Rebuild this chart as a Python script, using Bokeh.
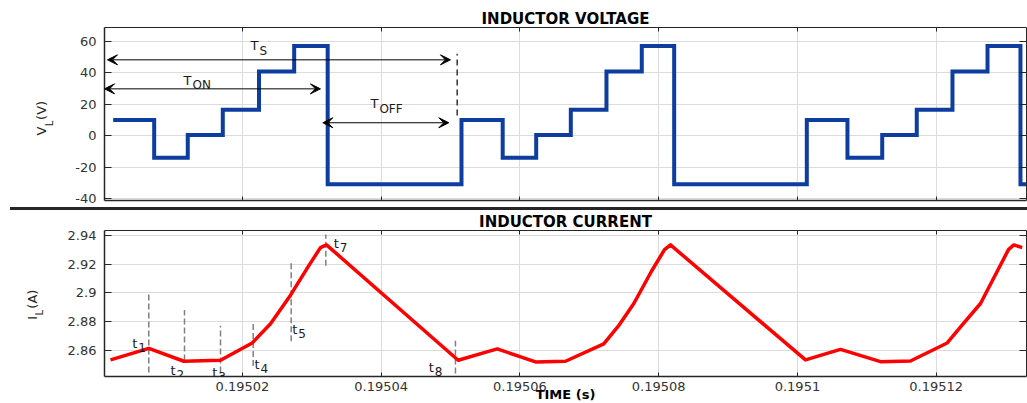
from bokeh.plotting import figure
from bokeh.models import (FixedTicker, CustomJSTickFormatter, LinearAxis, Label, Arrow,
                          VeeHead, Div, Range1d)
from bokeh.layouts import column, row
from bokeh.core.properties import value
from bokeh.embed import file_html
from bokeh.resources import INLINE

# ---------------- data ----------------
# inductor voltage: level start times (s) and levels (V)
volt_t = [0.19500136, 0.19500727, 0.19501211, 0.19501716, 0.19502238, 0.19502745, 0.19503228,
          0.19505157, 0.19505751, 0.19506234, 0.19506733, 0.19507247, 0.19507756, 0.19508223,
          0.19510135, 0.19510721, 0.19511222, 0.19511720, 0.19512235, 0.19512740, 0.19513215,
          0.19513302]
volt_v = [10, -14, 0.5, 16.5, 40.7, 56.8, -30.8,
          10, -14, 0.5, 16.5, 40.7, 56.8, -30.8,
          10, -14, 0.5, 16.5, 40.7, 56.8, -30.8,
          -30.8]

# inductor current (s, A)
cur_t = [0.19500097, 0.19500649, 0.19501154, 0.19501683, 0.19502140, 0.19502404, 0.19502692,
         0.19502956, 0.19503124, 0.19503211,
         0.19505109, 0.19505672, 0.19506224, 0.19506656, 0.19507208, 0.19507420, 0.19507641,
         0.19507896, 0.19508084, 0.19508170,
         0.19510116, 0.19510620, 0.19511197, 0.19511629, 0.19512159, 0.19512379, 0.19512639,
         0.19512869, 0.19513042, 0.19513119, 0.19513240]
cur_i = [2.8534, 2.8614, 2.8525, 2.8532, 2.8652, 2.8785, 2.8984, 2.9189, 2.9314, 2.9333,
         2.8532, 2.8611, 2.8520, 2.8525, 2.8645, 2.8770, 2.8926, 2.9150, 2.9300, 2.9333,
         2.8534, 2.8607, 2.8522, 2.8527, 2.8652, 2.8780, 2.8926, 2.9140, 2.9300, 2.9333,
         2.9314]

# axis ticks
x_ticks = [0.19502, 0.19504, 0.19506, 0.19508, 0.1951, 0.19512]
x_tick_labels = ["0.19502", "0.19504", "0.19506", "0.19508", "0.1951", "0.19512"]
v_ticks = [-40, -20, 0, 20, 40, 60]
v_tick_labels = ["-40", "-20", "0", "20", "40", "60"]
i_ticks = [2.86, 2.88, 2.9, 2.92, 2.94]
i_tick_labels = ["2.86", "2.88", "2.9", "2.92", "2.94"]

# period annotations (top panel)
arrow_names = ["S", "ON", "OFF"]
arrow_x0 = [0.19500054, 0.19500011, 0.19503158]
arrow_x1 = [0.19504998, 0.19503124, 0.19504974]
arrow_y = [48.1, 29.7, 8.2]
arrow_text_x = [0.19502115, 0.19501149, 0.19503844]
arrow_text_y = [57.1, 35.0, 20.4]
period_end_t = [0.19505095]
period_end_lo = [12.8]
period_end_hi = [51.9]

# instant markers (bottom panel)
tmark_names = ["1", "2", "3", "4", "5", "7", "8"]
tmark_t = [0.19500649, 0.19501164, 0.19501683, 0.19502154, 0.19502702, 0.19503201, 0.19505070]
tmark_lo = [2.8447, 2.8530, 2.8447, 2.8492, 2.8664, 2.9189, 2.8440]
tmark_hi = [2.8995, 2.8881, 2.8771, 2.8801, 2.9223, 2.9406, 2.8668]
tlabel_x = [0.19500410, 0.19500962, 0.19501563, 0.19502173, 0.19502716, 0.19503316, 0.19504686]
tlabel_y = [2.8650, 2.8458, 2.8447, 2.8504, 2.8748, 2.9342, 2.8481]

# y-axis titles (rotated, with subscript): text, x (px in label strip), y (data)
v_title = ["V", "L", "(V)"]
v_title_x = [41, 49, 41]
v_title_y = [0.1, 6.0, 10.0]
i_title = ["I", "L", "(A)"]
i_title_x = [32, 39, 32]
i_title_y = [2.8814, 2.8842, 2.8890]
title_sizes = ["13px", "10px", "13px"]

# ---------------- style ----------------
FONT = "DejaVu Sans"
BLUE = "#0d3d9e"
RED = "#ff0000"
AX = "#262626"
GRID = "#dcdcdc"
STRIP = 60
W = 1027 - STRIP
X0, X1 = 0.195000107, 0.19513302


def box_axes(p, yticks, ylabels, show_x):
    p.add_layout(LinearAxis(), "above")
    p.add_layout(LinearAxis(), "right")
    xt = FixedTicker(ticks=x_ticks)
    yt = FixedTicker(ticks=yticks)
    code = "const i = vals.indexOf(tick); return i < 0 ? '' : labs[i];"
    xf = CustomJSTickFormatter(args=dict(vals=x_ticks, labs=x_tick_labels), code=code)
    yf = CustomJSTickFormatter(args=dict(vals=yticks, labs=ylabels), code=code)
    for ax in p.xaxis:
        ax.ticker = xt
        ax.formatter = xf
        ax.major_tick_in = 4
    for ax in p.yaxis:
        ax.ticker = yt
        ax.formatter = yf
        ax.major_tick_in = 7
    for ax in p.axis:
        ax.major_tick_out = 0
        ax.minor_tick_line_color = None
        ax.axis_line_color = AX
        ax.major_tick_line_color = AX
        ax.major_label_text_font = FONT
        ax.major_label_text_font_size = "0px"
        ax.major_label_text_color = None
        ax.major_label_standoff = 0
        ax.axis_line_width = 1
    lf = p.left[0]
    lf.major_label_text_font_size = "13px"
    lf.major_label_text_color = "#333333"
    lf.major_label_standoff = 8
    lf.axis_line_width = 1.5
    p.below[0].axis_line_width = 1.5
    if show_x:
        b = p.below[0]
        b.major_label_text_font_size = "13px"
        b.major_label_text_color = "#333333"
        b.major_label_standoff = 5
        b.axis_label = "TIME (s)"
        b.axis_label_text_font = FONT
        b.axis_label_text_font_style = "bold"
        b.axis_label_text_font_size = "13px"
        b.axis_label_text_color = "#000000"
        b.axis_label_standoff = -7
    p.xgrid.ticker = xt
    p.ygrid.ticker = yt
    p.grid.grid_line_color = GRID
    p.grid.grid_line_width = 1
    p.outline_line_color = None
    p.title.align = "center"
    p.title.text_font = FONT
    p.title.text_font_style = "bold"
    p.title.text_font_size = "15px"
    p.title.text_color = "#000000"
    p.title.standoff = 0


def title_strip(height, y_range, top, bottom, texts, xs, ys):
    s = figure(width=STRIP, height=height, x_range=Range1d(0, STRIP), y_range=y_range,
               x_axis_type=None, y_axis_type=None, output_backend="svg",
               toolbar_location=None, min_border_left=0, min_border_right=0,
               min_border_top=top, min_border_bottom=bottom)
    s.outline_line_color = None
    for t, x, y, size in zip(texts, xs, ys, title_sizes):
        s.text(x=[x], y=[y], text=[t], angle=90, angle_units="deg", text_align="left",
               text_baseline="alphabetic", text_font=value(FONT),
               text_font_size=value(size), text_color=AX)
    return s


# ---------------- top: voltage ----------------
H1, T1, B1 = 207, 27, 7
p1 = figure(width=W, height=H1, x_range=Range1d(X0, X1), y_range=Range1d(-41.1, 68.6),
            output_backend="svg", toolbar_location=None, title="INDUCTOR VOLTAGE",
            min_border_left=104 - STRIP, min_border_right=1, min_border_top=T1,
            min_border_bottom=B1)
box_axes(p1, v_ticks, v_tick_labels, False)
p1.step(volt_t, volt_v, mode="after", line_color=BLUE, line_width=4, line_join="miter")

for x0, x1, y in zip(arrow_x0, arrow_x1, arrow_y):
    p1.add_layout(Arrow(start=VeeHead(size=10, fill_color="black", line_color="black"),
                        end=VeeHead(size=10, fill_color="black", line_color="black"),
                        x_start=x0, y_start=y, x_end=x1, y_end=y,
                        line_color="black", line_width=1))
p1.segment(x0=period_end_t, y0=period_end_lo, x1=period_end_t, y1=period_end_hi,
           line_color="#333333", line_width=1.5, line_dash="6 4")
for sub, x, y in zip(arrow_names, arrow_text_x, arrow_text_y):
    p1.add_layout(Label(x=x, y=y, text="T", text_font=FONT, text_font_size="13px",
                        text_color="#1a1a1a", text_baseline="alphabetic"))
    p1.add_layout(Label(x=x, y=y, x_offset=9, y_offset=-5, text=sub, text_font=FONT,
                        text_font_size="12px", text_color="#1a1a1a",
                        text_baseline="alphabetic"))
s1 = title_strip(H1, p1.y_range, T1, B1, v_title, v_title_x, v_title_y)

# ---------------- divider ----------------
div = Div(text="", width=1017, height=3, margin=(0, 0, 0, 10),
          styles={"background-color": "#262626"})

# ---------------- bottom: current ----------------
H2, T2, B2 = 202, 18, 36
p2 = figure(width=W, height=H2, x_range=p1.x_range, y_range=Range1d(2.8419, 2.9433),
            output_backend="svg", toolbar_location=None, title="INDUCTOR CURRENT",
            min_border_left=104 - STRIP, min_border_right=1, min_border_top=T2,
            min_border_bottom=B2)
box_axes(p2, i_ticks, i_tick_labels, True)
p2.segment(x0=tmark_t, y0=tmark_lo, x1=tmark_t, y1=tmark_hi,
           line_color="#808080", line_width=1.5, line_dash="6 3")
p2.line(cur_t, cur_i, line_color=RED, line_width=3.5, line_join="round")
for sub, x, y in zip(tmark_names, tlabel_x, tlabel_y):
    p2.add_layout(Label(x=x, y=y, text="t", text_font=FONT, text_font_size="13px",
                        text_color="#1a1a1a", text_baseline="alphabetic"))
    p2.add_layout(Label(x=x, y=y, x_offset=6, y_offset=-4, text=sub, text_font=FONT,
                        text_font_size="12px", text_color="#1a1a1a",
                        text_baseline="alphabetic"))
s2 = title_strip(H2, p2.y_range, T2, B2, i_title, i_title_x, i_title_y)

layout = column(row(s1, p1), div, row(s2, p2))
open("out.html", "w").write(file_html(layout, INLINE))
